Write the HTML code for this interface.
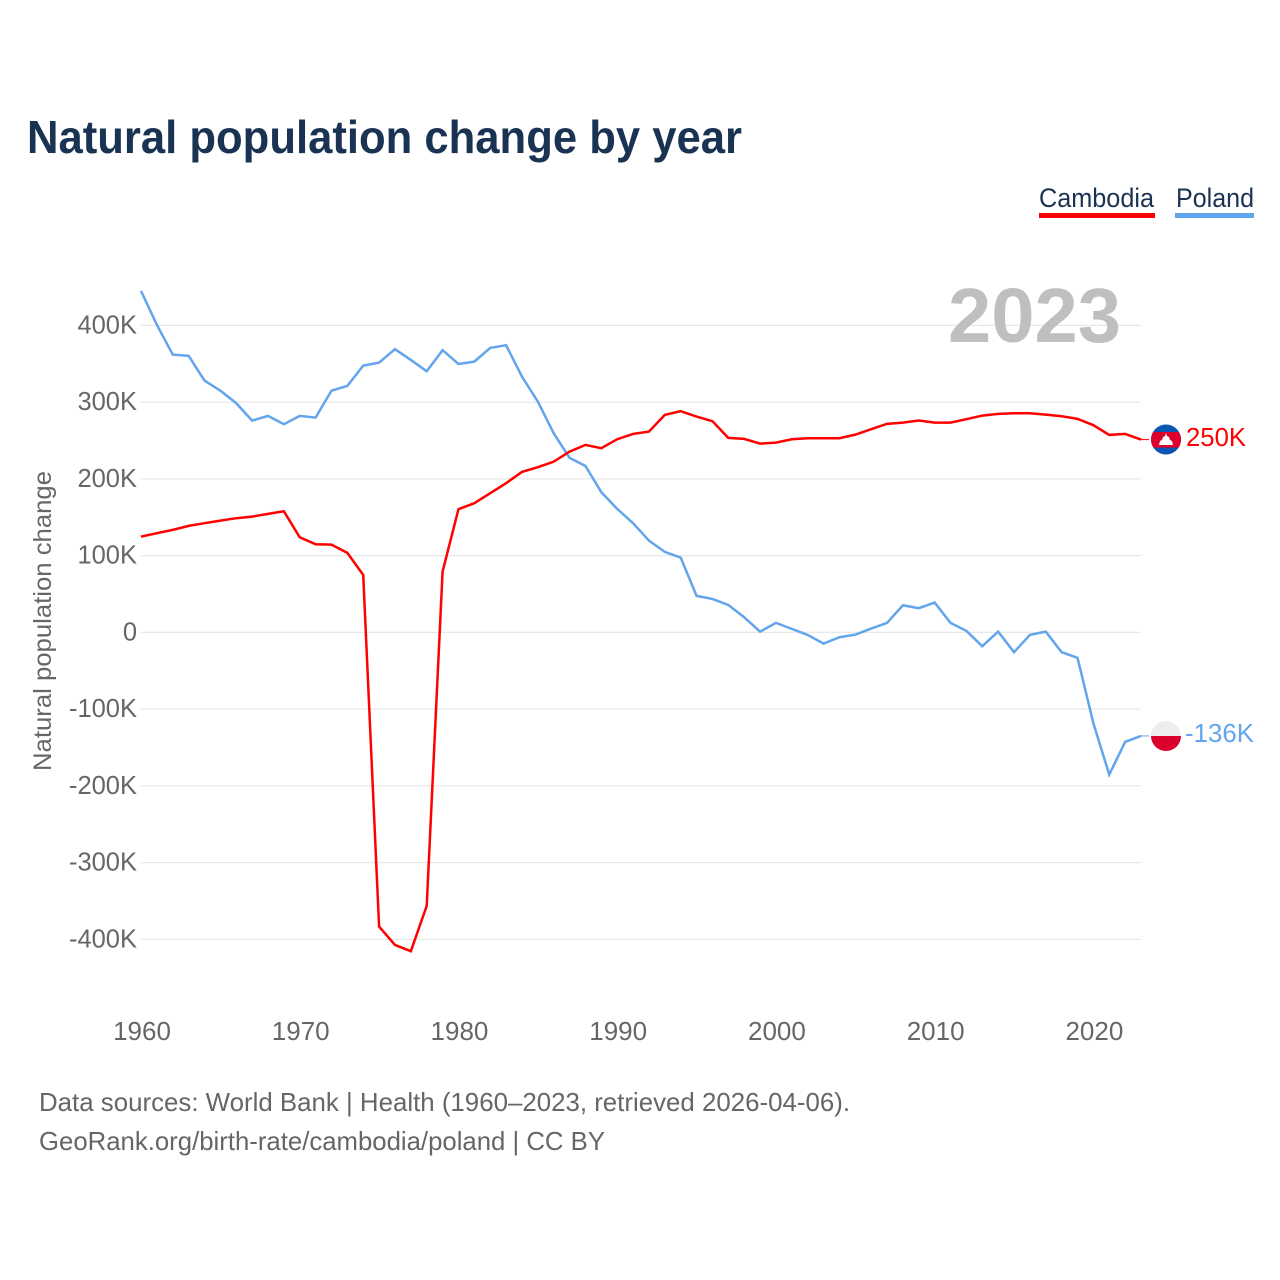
<!DOCTYPE html>
<html lang="en">
<head>
<meta charset="utf-8">
<title>Natural population change by year</title>
<style>
html,body{margin:0;padding:0;background:#fff;width:1280px;height:1280px;overflow:hidden}
svg{display:block}
text{font-family:"Liberation Sans",sans-serif}
</style>
</head>
<body>
<svg id="chart" xmlns="http://www.w3.org/2000/svg" width="1280" height="1280" viewBox="0 0 1280 1280">
  <defs>
    <clipPath id="clip-kh"><circle id="clip-kh-c" cx="1166" cy="439.5" r="15"></circle></clipPath>
    <clipPath id="clip-pl"><circle id="clip-pl-c" cx="1166" cy="736" r="15"></circle></clipPath>
  </defs>
  <text x="27" y="153" font-size="46" font-weight="700" fill="#1a3353" textLength="715" lengthAdjust="spacingAndGlyphs">Natural population change by year</text>

  <g>
    <g>
      <text x="1039" y="207" font-size="27" fill="#1a3353" textLength="115" lengthAdjust="spacingAndGlyphs">Cambodia</text>
      <rect x="1039" y="213" width="116" height="5" fill="#ff0000"></rect>
    </g>
    <g>
      <text x="1176" y="207" font-size="27" fill="#1a3353" textLength="78" lengthAdjust="spacingAndGlyphs">Poland</text>
      <rect x="1175" y="213" width="79" height="5" fill="#62a5ec"></rect>
    </g>
  </g>

  <g id="grid"></g>
  <g id="y-axis"></g>
  <g id="x-axis"></g>

  <text x="948" y="342" font-size="77" font-weight="700" fill="#bfbfbf" textLength="173" lengthAdjust="spacingAndGlyphs">2023</text>

  <text transform="translate(51 771) rotate(-90)" x="0" y="0" font-size="25" fill="#666666" textLength="300" lengthAdjust="spacingAndGlyphs">Natural population change</text>

  <g id="series"></g>

  <g id="flag-kh" clip-path="url(#clip-kh)">
    <rect id="kh-blue" x="1150" y="424" width="32" height="31" fill="#0b56b3"></rect>
    <rect id="kh-red" x="1150" y="432" width="32" height="15.6" fill="#dc002c"></rect>
    <polygon id="kh-temple" points="1159,445 1160,441 1162,440 1163,437 1165,436 1166,433 1167,436 1169,437 1170,440 1172,441 1173,445" fill="#ffffff"></polygon>
  </g>
  <g id="flag-pl" clip-path="url(#clip-pl)">
    <rect id="pl-white" x="1150" y="720" width="32" height="16" fill="#eeeeee"></rect>
    <rect id="pl-red" x="1150" y="736" width="32" height="16" fill="#dc002c"></rect>
  </g>

  <text id="end-kh" x="1186" y="446" font-size="26" fill="#ff0000" textLength="60" lengthAdjust="spacingAndGlyphs">250K</text>
  <text id="end-pl" x="1185" y="742" font-size="26" fill="#62a5ec" textLength="69" lengthAdjust="spacingAndGlyphs">-136K</text>

  <g>
    <text x="39" y="1111" font-size="26" fill="#666666" textLength="811" lengthAdjust="spacingAndGlyphs">Data sources: World Bank | Health (1960–2023, retrieved 2026-04-06).</text>
    <text x="39" y="1150" font-size="26" fill="#666666" textLength="566" lengthAdjust="spacingAndGlyphs">GeoRank.org/birth-rate/cambodia/poland | CC BY</text>
  </g>
</svg>
<script>
const years = [1960,1961,1962,1963,1964,1965,1966,1967,1968,1969,1970,1971,1972,1973,1974,1975,1976,1977,1978,1979,1980,1981,1982,1983,1984,1985,1986,1987,1988,1989,1990,1991,1992,1993,1994,1995,1996,1997,1998,1999,2000,2001,2002,2003,2004,2005,2006,2007,2008,2009,2010,2011,2012,2013,2014,2015,2016,2017,2018,2019,2020,2021,2022,2023];
const cambodia = [124.8,129.3,133.6,138.8,142.3,145.7,148.8,150.9,154.4,157.9,124.0,114.9,114.4,103.6,74.9,-383.3,-407.2,-415.4,-356.4,79.2,160.5,168.3,181.4,194.4,209.1,215.2,222.5,235.6,244.3,240.0,251.7,258.6,261.6,283.4,288.2,281.2,275.2,253.4,252.1,246.0,247.3,251.7,253.0,253.0,253.0,257.7,264.8,271.7,273.4,276.0,273.4,273.4,277.8,282.5,284.7,285.6,285.6,283.8,281.7,278.2,270.0,257.3,258.6,251.2];
const poland = [445.0,400.7,362.0,360.3,328.1,315.0,298.6,276.0,282.1,271.3,282.1,279.9,315.0,321.2,347.6,351.5,369.0,355.0,340.3,367.7,349.8,352.8,370.7,374.2,333.3,300.7,259.5,227.4,216.9,182.7,160.9,142.3,119.6,104.9,97.5,47.6,43.6,35.8,19.8,1.0,12.4,4.6,-3.3,-14.6,-6.3,-2.9,5.0,12.4,35.4,31.5,38.8,12.4,2.0,-18.0,1.0,-25.8,-3.3,1.0,-25.8,-33.2,-118.3,-185.3,-142.7,-134.9];
const yTickValues = [400,300,200,100,0,-100,-200,-300,-400];
const yTickLabels = ["400K","300K","200K","100K","0","-100K","-200K","-300K","-400K"];
const xTickValues = [1960,1970,1980,1990,2000,2010,2020];
const xTickLabels = ["1960","1970","1980","1990","2000","2010","2020"];

const NS = "http://www.w3.org/2000/svg";
const plot = { left: 141, right: 1141, zeroY: 632.4, pxPerK: 0.7675, firstYear: 1960, lastYear: 2023 };
function xScale(year) {
  return plot.left + (year - plot.firstYear) * (plot.right - plot.left) / (plot.lastYear - plot.firstYear);
}
function yScale(value) {
  return plot.zeroY - value * plot.pxPerK;
}
function linePath(values) {
  return values.map(function (v, i) {
    return (i ? "L" : "M") + xScale(years[i]).toFixed(2) + " " + yScale(v).toFixed(2);
  }).join("");
}

const gridGroup = document.getElementById("grid");
const yAxisGroup = document.getElementById("y-axis");
const xAxisGroup = document.getElementById("x-axis");
const seriesGroup = document.getElementById("series");

yTickValues.forEach(function (v, i) {
  const line = document.createElementNS(NS, "line");
  
  
  line.setAttribute("x1", plot.left);
  line.setAttribute("x2", plot.right);
  line.setAttribute("y1", yScale(v));
  line.setAttribute("y2", yScale(v));
  line.setAttribute("stroke", "#e8e8e8");
  line.setAttribute("stroke-width", "1.2");
  gridGroup.appendChild(line);

  const label = document.createElementNS(NS, "text");
  
  
  label.setAttribute("x", 137);
  label.setAttribute("y", yScale(v) + 8);
  label.setAttribute("text-anchor", "end");
  label.setAttribute("font-size", "25.5");
  label.setAttribute("fill", "#666666");
  label.textContent = yTickLabels[i];
  yAxisGroup.appendChild(label);
});

xTickValues.forEach(function (v, i) {
  const label = document.createElementNS(NS, "text");
  
  
  label.setAttribute("x", xScale(v) + 1);
  label.setAttribute("y", 1040);
  label.setAttribute("text-anchor", "middle");
  label.setAttribute("font-size", "26");
  label.setAttribute("fill", "#666666");
  label.textContent = xTickLabels[i];
  xAxisGroup.appendChild(label);
});

function drawSeries(values, color, name) {
  const path = document.createElementNS(NS, "path");
  
  
  path.setAttribute("d", linePath(values));
  path.setAttribute("fill", "none");
  path.setAttribute("stroke", color);
  path.setAttribute("stroke-width", "2.5");
  path.setAttribute("stroke-linejoin", "miter");
  seriesGroup.appendChild(path);

  const leader = document.createElementNS(NS, "line");
  
  
  const lastY = yScale(values[values.length - 1]);
  leader.setAttribute("x1", plot.right);
  leader.setAttribute("x2", plot.right + 8);
  leader.setAttribute("y1", lastY);
  leader.setAttribute("y2", lastY);
  leader.setAttribute("stroke", color);
  leader.setAttribute("stroke-width", "1");
  seriesGroup.appendChild(leader);
}
drawSeries(poland, "#62a5ec", "poland-line");
drawSeries(cambodia, "#ff0000", "cambodia-line");
</script>
</body>
</html>
